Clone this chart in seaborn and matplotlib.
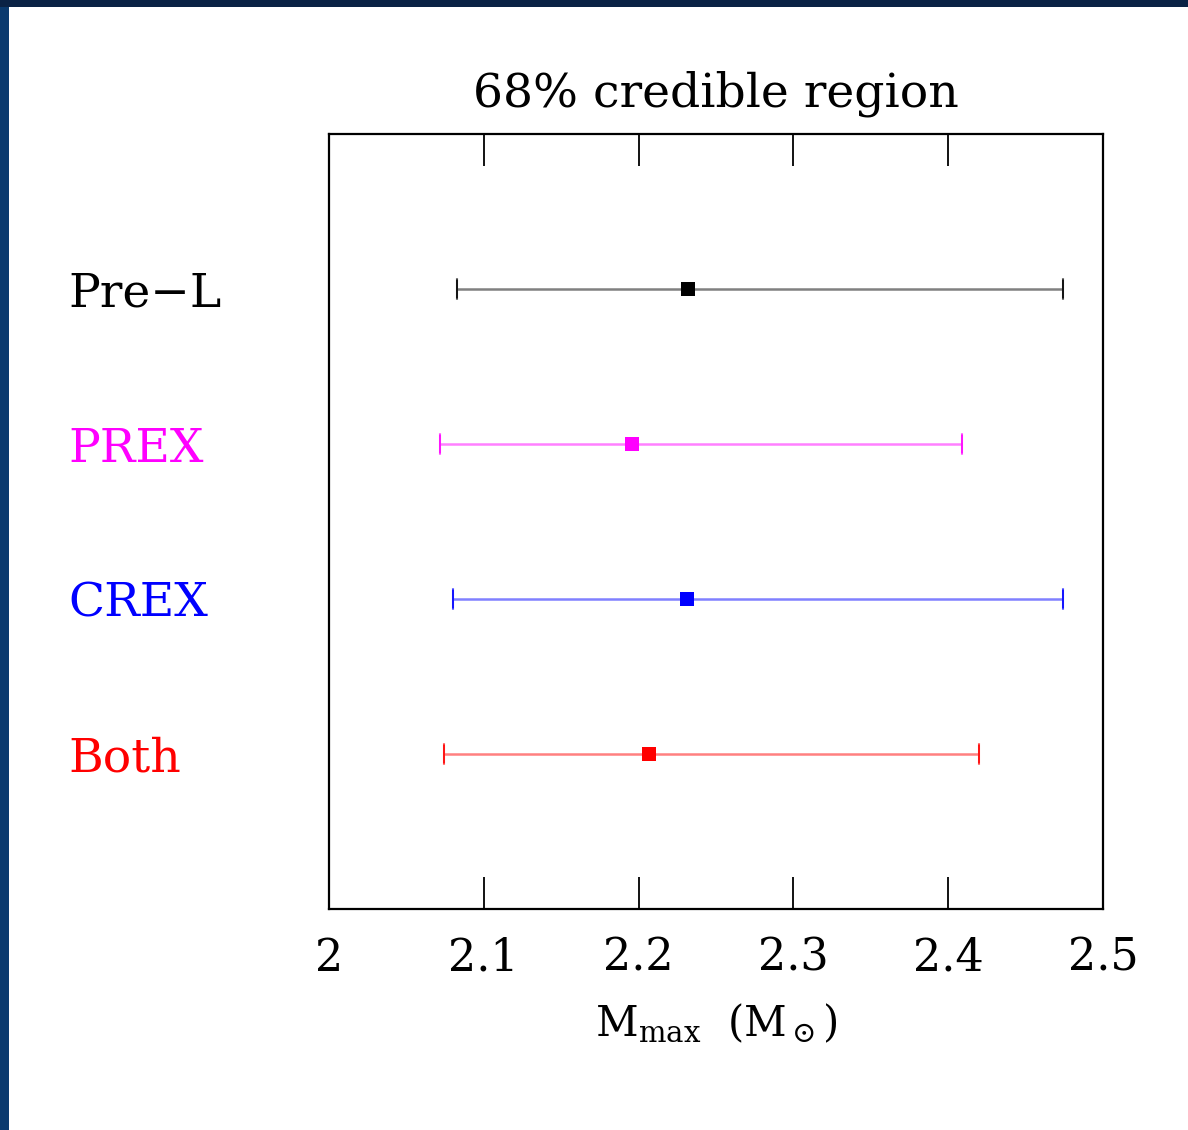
import matplotlib
matplotlib.use("Agg")
import matplotlib.pyplot as plt
import seaborn as sns
import pandas as pd
from matplotlib.patches import Rectangle

# Data
labels = ["Pre\u2212L", "PREX", "CREX", "Both"]
centers = [2.232, 2.196, 2.231, 2.207]
lows = [2.083, 2.072, 2.080, 2.074]
highs = [2.474, 2.409, 2.474, 2.420]
rows = [4, 3, 2, 1]
marker_colors = ["#000000", "#ff00ff", "#0000ff", "#ff0000"]
line_colors = ["#808080", "#ff80ff", "#8080ff", "#ff8080"]
xticks = [2.0, 2.1, 2.2, 2.3, 2.4, 2.5]
xticklabels = ["2", "2.1", "2.2", "2.3", "2.4", "2.5"]

df = pd.DataFrame({"label": labels, "center": centers, "low": lows,
                   "high": highs, "row": rows})

sns.set_theme(style="white")
plt.rcParams['font.family'] = ['DejaVu Serif']
plt.rcParams['mathtext.fontset'] = 'dejavuserif'
plt.rcParams['text.color'] = 'black'
plt.rcParams['axes.labelcolor'] = 'black'

fig = plt.figure(figsize=(11.88, 11.30), dpi=100)
fig.patch.set_facecolor("white")
# blue slide border
fig.add_artist(Rectangle((0, 0), 9/1188, 1, transform=fig.transFigure,
                         facecolor="#0b3a6e", edgecolor="none"))
fig.add_artist(Rectangle((0, 1 - 7/1130), 1, 7/1130, transform=fig.transFigure,
                         facecolor="#0a2245", edgecolor="none"))

ax = fig.add_axes([329/1188, 1 - 909/1130, 774/1188, 775/1130])

for i, r in df.iterrows():
    ax.errorbar(r["center"], r["row"],
                xerr=[[r["center"] - r["low"]], [r["high"] - r["center"]]],
                fmt="none", ecolor=line_colors[i], elinewidth=1.8,
                capsize=8, capthick=1.5, zorder=2)
    ax.plot([r["low"], r["low"]], [r["row"] - 0.055, r["row"] + 0.055],
            color=marker_colors[i], lw=1.2, zorder=3)
    ax.plot([r["high"], r["high"]], [r["row"] - 0.055, r["row"] + 0.055],
            color=marker_colors[i], lw=1.2, zorder=3)

sns.scatterplot(data=df, x="center", y="row", hue="label",
                palette=dict(zip(labels, marker_colors)), marker="s",
                s=100, edgecolor="none", legend=False, ax=ax, zorder=4)

ax.set_xlim(2.0, 2.5)
ax.set_ylim(0, 5)
ax.set_xticks(xticks)
ax.set_xticklabels(xticklabels, fontsize=32)
ax.set_yticks(rows)
ax.set_yticklabels(labels, fontsize=34)
for t, c in zip(ax.get_yticklabels(), marker_colors):
    t.set_color(c)
    t.set_horizontalalignment("left")
ax.tick_params(axis="y", length=0, pad=(329 - 68) * 0.72)
ax.tick_params(axis="x", direction="in", length=23, width=1.3,
               top=True, bottom=True, pad=20, colors="black")
ax.set_xlabel(r"M$_{\rm max}$  (M$_\odot$)", fontsize=30, labelpad=16,
              color="black")
ax.set_ylabel("")
ax.set_title("68% credible region", fontsize=34, pad=20, color="black")
for s in ax.spines.values():
    s.set_linewidth(1.6)
    s.set_color("black")
    s.set_visible(True)

fig.savefig("out.png", dpi=100, facecolor=fig.get_facecolor())
